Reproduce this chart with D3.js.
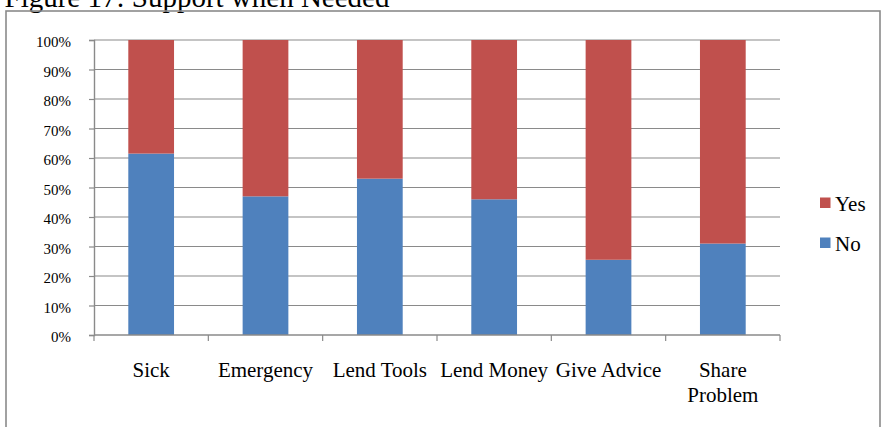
<!DOCTYPE html>
<html>
<head>
<meta charset="utf-8">
<script src="https://cdn.jsdelivr.net/npm/d3@7"></script>
<style>
  body { margin: 0; background: #fff; }
  svg { display: block; font-family: "Liberation Serif", "Times New Roman", serif; }
  .grid line, .axis line, .axis path { stroke: #8a8a8a; }
</style>
</head>
<body>
<svg id="chart" width="883" height="427"></svg>
<script>
// Chart data
const categories = ['Sick', 'Emergency', 'Lend Tools', 'Lend Money', 'Give Advice', 'Share Problem'];
const noValues = [61.5, 47, 53, 46, 25.5, 31];
const yesValues = [38.5, 53, 47, 54, 74.5, 69];
const seriesNames = ['Yes', 'No'];
const seriesColors = { Yes: '#C0504D', No: '#4F81BD' };
const yTicks = [0, 10, 20, 30, 40, 50, 60, 70, 80, 90, 100];

const svg = d3.select('#chart');

// Plot area bounds
const plot = { left: 94, right: 780, top: 40, bottom: 335 };

// Title, partly cut off at the top like the reference
svg.append('text')
  .attr('x', 4.5)
  .attr('y', 7)
  .attr('font-size', 29)
  .text('Figure 17: Support when Needed');

// Outer frame
svg.append('rect')
  .attr('x', 6)
  .attr('y', 11)
  .attr('width', 874)
  .attr('height', 430)
  .attr('fill', 'none')
  .attr('stroke', '#8a8a8a')
  .attr('stroke-width', 1.6);

// Scales
const x = d3.scaleBand()
  .domain(categories)
  .range([plot.left, plot.right])
  .paddingInner(0.6)
  .paddingOuter(0.3);

const y = d3.scaleLinear()
  .domain([0, 100])
  .range([plot.bottom, plot.top]);

// Horizontal gridlines
svg.append('g')
  .attr('class', 'grid')
  .selectAll('line')
  .data(yTicks.filter((t) => t > 0))
  .join('line')
  .attr('x1', plot.left)
  .attr('x2', plot.right)
  .attr('y1', (d) => y(d))
  .attr('y2', (d) => y(d))
  .attr('stroke-width', 1.2);

// Stacked bars: No at the bottom, Yes on top
const rows = categories.map((c, i) => ({ category: c, No: noValues[i], Yes: yesValues[i] }));
const stacked = d3.stack().keys(['No', 'Yes'])(rows);

svg.append('g')
  .selectAll('g')
  .data(stacked)
  .join('g')
  .attr('fill', (s) => seriesColors[s.key])
  .selectAll('rect')
  .data((s) => s)
  .join('rect')
  .attr('x', (d) => x(d.data.category))
  .attr('width', x.bandwidth())
  .attr('y', (d) => y(d[1]))
  .attr('height', (d) => y(d[0]) - y(d[1]));

// Y axis
const yAxis = d3.axisLeft(y)
  .tickValues(yTicks)
  .tickSize(5)
  .tickPadding(18)
  .tickFormat((d) => `${d}%`);

const yAxisG = svg.append('g')
  .attr('class', 'axis')
  .attr('transform', `translate(${plot.left},0)`)
  .call(yAxis);
yAxisG.select('.domain').attr('stroke-width', 1.4);
yAxisG.selectAll('line').attr('stroke-width', 1.2);
yAxisG.selectAll('text')
  .attr('font-family', '"Liberation Serif", serif')
  .attr('font-size', 15)
  .attr('fill', '#000')
  .attr('dy', '0.45em');

// X axis line with ticks at the category boundaries
const xAxisG = svg.append('g').attr('class', 'axis');
xAxisG.append('line')
  .attr('x1', plot.left)
  .attr('x2', plot.right)
  .attr('y1', plot.bottom)
  .attr('y2', plot.bottom)
  .attr('stroke-width', 1.4);
xAxisG.selectAll('line.tick')
  .data(d3.range(categories.length + 1))
  .join('line')
  .attr('class', 'tick')
  .attr('x1', (i) => plot.left + i * x.step())
  .attr('x2', (i) => plot.left + i * x.step())
  .attr('y1', plot.bottom)
  .attr('y2', plot.bottom + 6)
  .attr('stroke-width', 1.2);

// Category labels (wrap the long one like the reference)
const labelLines = { 'Share Problem': ['Share', 'Problem'] };
const catLabels = svg.append('g')
  .attr('font-size', 21)
  .attr('text-anchor', 'middle');
categories.forEach((c) => {
  const lines = labelLines[c] || [c];
  const t = catLabels.append('text')
    .attr('x', x(c) + x.bandwidth() / 2)
    .attr('y', 377);
  lines.forEach((ln, j) => {
    t.append('tspan')
      .attr('x', x(c) + x.bandwidth() / 2)
      .attr('dy', j === 0 ? 0 : 24.5)
      .text(ln);
  });
});

// Legend
const legend = svg.append('g')
  .attr('transform', 'translate(820,197.5)');
const legendItem = legend.selectAll('g')
  .data(seriesNames)
  .join('g')
  .attr('transform', (d, i) => `translate(0,${i * 40})`);
legendItem.append('rect')
  .attr('width', 10.5)
  .attr('height', 10.5)
  .attr('fill', (d) => seriesColors[d]);
legendItem.append('text')
  .attr('x', 15)
  .attr('y', 13.2)
  .attr('font-size', 21)
  .text((d) => d);
</script>
</body>
</html>
